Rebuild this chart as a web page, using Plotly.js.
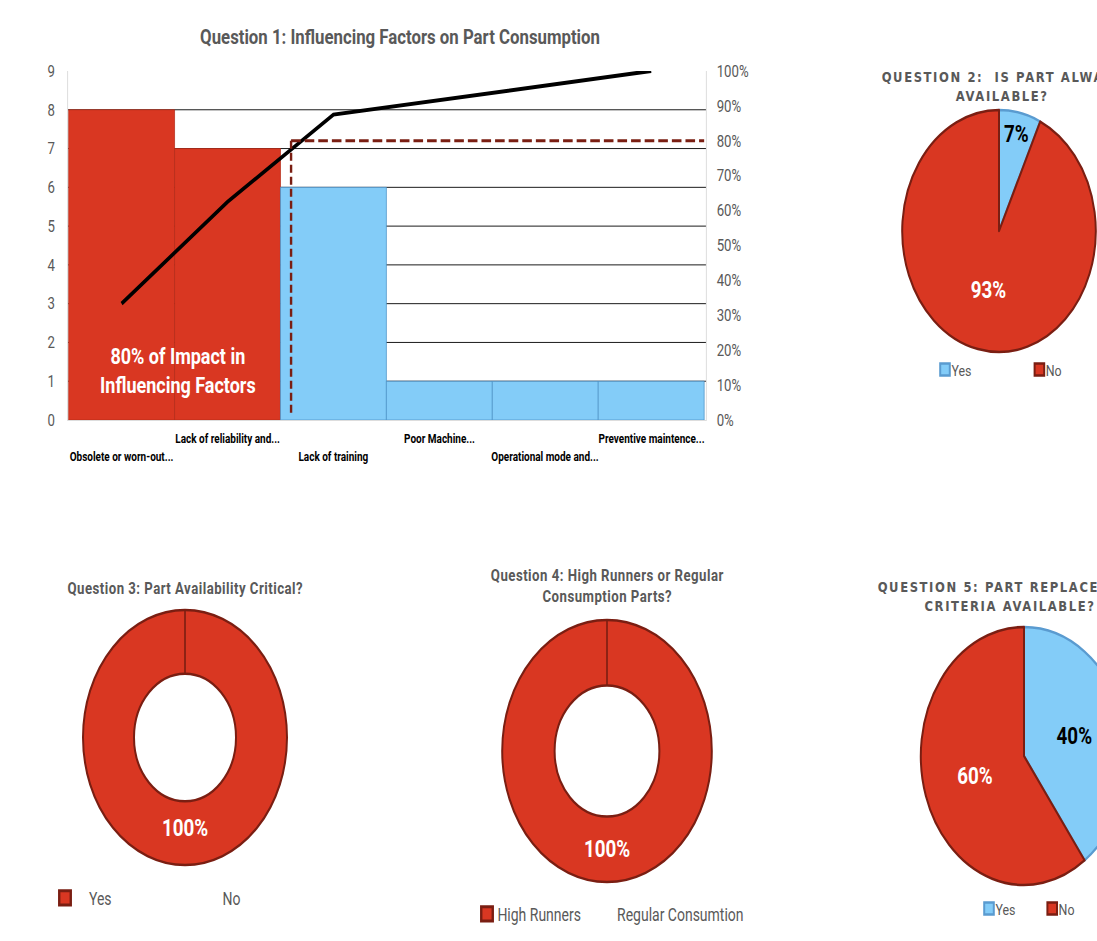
<!DOCTYPE html>
<html><head><meta charset="utf-8">
<script src="https://cdn.plot.ly/plotly-3.0.1.min.js"></script>
<style>
html,body{margin:0;padding:0;overflow:hidden;background:#fff;width:1097px;height:941px;}
#chart{width:1450px;height:941px;transform:scaleX(0.8);transform-origin:0 0;}
g.annotation[data-index="7"] text, g.annotation[data-index="10"] text{letter-spacing:2px;}
g.annotation[data-index="8"] text, g.annotation[data-index="9"] text{letter-spacing:0.6px;}
</style></head><body><div id="chart"></div>
<script>
// ---------- data ----------
const q1Title = "Question 1: Influencing Factors on Part Consumption";
const q1Categories = ["Obsolete or worn-out...", "Lack of reliability and...", "Lack of training", "Poor Machine...", "Operational mode and...", "Preventive maintence..."];
const q1Counts = [8, 7, 6, 1, 1, 1];
const q1Threshold = 0.8;
const q1Note = "80% of Impact in<br>Influencing Factors";

const q2Title = "QUESTION 2:  IS PART ALWAYS<br>AVAILABLE?";
const q2Labels = ["Yes", "No"];
const q2Values = [7, 93];

const q3Title = "Question 3: Part Availability Critical?";
const q3Labels = ["Yes", "No"];
const q3Values = [100, 0];

const q4Title = "Question 4: High Runners or Regular<br>Consumption Parts?";
const q4Labels = ["High Runners", "Regular Consumtion"];
const q4Values = [100, 0];

const q5Title = "QUESTION 5: PART REPLACEMENT<br>CRITERIA AVAILABLE?";
const q5Labels = ["Yes", "No"];
const q5Values = [40, 60];

// ---------- styling ----------
const W = 1450, H = 941, S = 0.8;
const fx = px => px / S / W;
const fy = py => 1 - py / H;
const RED = '#D93722', RED_LINE = '#B32A17', RED_EDGE = '#7A1E12';
const BLUE = '#83CCF8', BLUE_LINE = '#4A8FC6', BLUE_EDGE = '#5A9BD0';
const GRAY = '#595959';
const SANS = "Roboto, 'Liberation Sans', sans-serif";
const WIDE = "'DejaVu Sans', 'Liberation Sans', sans-serif";

const total = q1Counts.reduce((a, b) => a + b, 0);
let run = 0;
const q1Cum = q1Counts.map(v => (run += v) / total);
const barColors = q1Cum.map(c => c <= q1Threshold ? RED : BLUE);
const barLines = q1Cum.map(c => c <= q1Threshold ? RED_LINE : BLUE_LINE);

const traces = [
  {type: 'bar', x: q1Categories, y: q1Counts, xaxis: 'x', yaxis: 'y',
   marker: {color: barColors, line: {color: barLines, width: 0.8}}, showlegend: false, hoverinfo: 'x+y'},
  {type: 'scatter', mode: 'lines', x: q1Categories, y: q1Cum, xaxis: 'x', yaxis: 'y2',
   line: {color: '#000', width: 4}, showlegend: false}
];

function pie(labels, values, cfg) {
  const r = cfg.r, cx = cfg.cx / S, cy = cfg.cy;
  return {
    type: 'pie', labels: labels, values: values, sort: false, direction: 'clockwise', rotation: 0,
    hole: cfg.hole || 0,
    domain: {x: [(cx - r) / W, (cx + r) / W], y: [1 - (cy + r) / H, 1 - (cy - r) / H]},
    marker: {colors: cfg.colors, line: {color: cfg.lines, width: cfg.lw || 2.5}},
    textinfo: 'none', texttemplate: cfg.tt, textposition: 'inside', insidetextorientation: 'horizontal',
    textfont: {family: SANS, size: 23.5, weight: 700, color: cfg.textColors},
    legend: cfg.legend, legendgroup: cfg.legend, hoverinfo: 'label+percent'
  };
}
const NONE = 'rgba(0,0,0,0)';
traces.push(pie(q2Labels, q2Values, {cx: 999, cy: 231, r: 121, colors: [BLUE, RED], lines: [BLUE_EDGE, RED_EDGE],
  tt: ['%{percent:.0%}', '%{percent:.0%}'], textColors: ['#000', '#fff'], legend: 'legend'}));
traces.push(pie(q3Labels, q3Values, {cx: 185, cy: 737.5, r: 127.5, hole: 0.5, colors: [RED, NONE], lines: [RED_EDGE, NONE],
  tt: ['%{percent:.0%}', ''], textColors: ['#fff', '#fff'], legend: 'legend2'}));
traces.push(pie(q4Labels, q4Values, {cx: 607, cy: 751, r: 131, hole: 0.5, colors: [RED, NONE], lines: [RED_EDGE, NONE],
  tt: ['%{percent:.0%}', ''], textColors: ['#fff', '#fff'], legend: 'legend3'}));
traces.push(pie(q5Labels, q5Values, {cx: 1024, cy: 756, r: 129, colors: [BLUE, RED], lines: [BLUE_EDGE, RED_EDGE],
  tt: ['%{percent:.0%}', '%{percent:.0%}'], textColors: ['#000', '#fff'], legend: 'legend4'}));

const annotations = q1Categories.map((c, i) => ({
  x: c, y: 0, xref: 'x', yref: 'y', yanchor: 'top', yshift: i % 2 ? -9 : -27, showarrow: false,
  text: c, font: {family: SANS, size: 12.5, weight: 700, color: '#000'}
}));
annotations.push({x: 0.53, y: 1.27, xref: 'x', yref: 'y', showarrow: false, text: q1Note, align: 'center',
  font: {family: SANS, size: 22.5, weight: 700, color: '#fff'}});
function title(text, x, y, font) {
  return {x: fx(x), y: fy(y), xref: 'paper', yref: 'paper', xanchor: 'center', yanchor: 'middle',
    showarrow: false, text: text, align: 'center', font: font};
}
const capsFont = {family: WIDE, size: 14.5, weight: 700, color: GRAY};
const qFont = {family: SANS, size: 16.5, weight: 700, color: GRAY};
annotations.push(title(q2Title, 1002, 87, capsFont));
annotations.push(title(q3Title, 185, 588, qFont));
annotations.push(title(q4Title, 607, 586, qFont));
annotations.push(title(q5Title, 1010, 596, capsFont));

const seam = (cx, cy, r) => ({type: 'line', xref: 'paper', yref: 'paper', x0: fx(cx), x1: fx(cx),
  y0: fy(cy - r), y1: fy(cy - r * 0.5), line: {color: RED_EDGE, width: 2}});

const legendBase = (x, y, ew, size) => {
  const l = {orientation: 'h', x: fx(x), y: fy(y), xanchor: 'left', yanchor: 'middle',
    bgcolor: NONE, font: {family: SANS, size: size, color: GRAY}, traceorder: 'normal'};
  if (ew) l.entrywidth = ew;
  return l;
};

const layout = {
  width: W, height: H, margin: {l: 0, r: 0, t: 0, b: 0, autoexpand: false}, paper_bgcolor: '#fff', plot_bgcolor: '#fff',
  title: {text: q1Title, x: fx(400), xanchor: 'center', y: fy(37), yanchor: 'middle',
    font: {family: SANS, size: 21, weight: 700, color: GRAY}},
  bargap: 0,
  xaxis: {domain: [fx(68), fx(706)], type: 'category', showgrid: false, showline: true, linecolor: '#d9d9d9',
    linewidth: 1, showticklabels: false, ticks: '', fixedrange: true},
  yaxis: {domain: [fy(420), fy(71)], range: [0, 9], dtick: 1, showgrid: true, gridcolor: '#000', gridwidth: 1,
    zeroline: false, showline: true, linecolor: '#d9d9d9', ticks: '', ticklabelstandoff: 12,
    tickfont: {family: SANS, size: 16.5, color: GRAY}},
  yaxis2: {overlaying: 'y', side: 'right', anchor: 'x', range: [0, 1], dtick: 0.1, tickformat: '.0%',
    showgrid: false, zeroline: false, showline: true, linecolor: '#d9d9d9', ticks: '', ticklabelstandoff: 9,
    tickfont: {family: SANS, size: 16.5, color: GRAY}},
  shapes: [
    {type: 'line', xref: 'x', yref: 'y2', x0: 1.6, x1: 5.5, y0: q1Threshold, y1: q1Threshold,
     line: {color: RED_EDGE, width: 3, dash: '12px,5px'}},
    {type: 'line', xref: 'x', yref: 'y2', x0: 1.6, x1: 1.6, y0: q1Threshold, y1: 0.012,
     line: {color: RED_EDGE, width: 3, dash: '8px,4px'}},
    seam(185, 737.5, 127.5), seam(607, 751, 131)
  ],
  annotations: annotations,
  legend: legendBase(929, 370, 73, 15.5),
  legend2: legendBase(49, 898, 122, 17.5),
  legend3: legendBase(471, 914, 0, 17.5),
  legend4: legendBase(973, 909, 34, 15.5)
};

// legend text offsets (px, before the horizontal squeeze) and bigger symbols for the donut legends
const textShift = {legend: -12, legend2: 10, legend3: -7, legend4: -12};
const bigSymbol = {legend2: true, legend3: true};
function legendIdOf(node) {
  let p = node.parentNode;
  while (p && p.getAttribute) {
    const c = p.getAttribute('class');
    if (c && /^legend\d*$/.test(c)) return c;
    p = p.parentNode;
  }
  return null;
}
function fixLegends() {
  document.querySelectorAll('#chart g.traces').forEach(g => {
    const id = legendIdOf(g);
    if (!id || textShift[id] == null) return;
    g.querySelectorAll('text').forEach(t => {
      const cur = parseFloat(t.getAttribute('x') || '0');
      if (t.dataset.fx !== undefined && Math.abs(cur - parseFloat(t.dataset.fx)) < 0.01) return;
      const nx = cur + textShift[id];
      t.setAttribute('x', nx);
      t.dataset.fx = String(nx);
    });
    if (bigSymbol[id]) g.querySelectorAll('path.legendpie').forEach(p => {
      const t0 = p.getAttribute('transform') || '';
      if (t0.indexOf('scale') >= 0) return;
      p.setAttribute('transform', (t0 + ' scale(1.2)').trim());
    });
  });
}
const chartDiv = document.getElementById('chart');
const obs = new MutationObserver(() => fixLegends());
obs.observe(chartDiv, {childList: true, subtree: true, attributes: true, attributeFilter: ['x', 'transform']});
Plotly.newPlot(chartDiv, traces, layout, {displayModeBar: false, staticPlot: true}).then(() => {
  fixLegends();
  [50, 200, 600, 1500].forEach(ms => setTimeout(fixLegends, ms));
  setTimeout(() => obs.disconnect(), 4000);
});
</script></body></html>
